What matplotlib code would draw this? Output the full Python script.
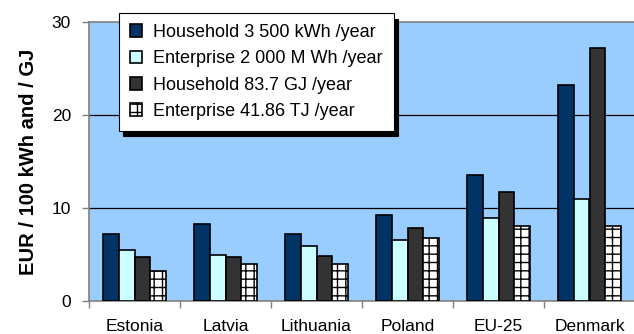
import matplotlib
matplotlib.use("Agg")
import matplotlib.pyplot as plt
import numpy as np

plt.rcParams['font.family'] = ['Liberation Sans', 'DejaVu Sans']
plt.rcParams['hatch.linewidth'] = 1.0

categories = ["Estonia", "Latvia", "Lithuania", "Poland", "EU-25", "Denmark"]
series_names = ["Household 3 500 kWh /year", "Enterprise 2 000 M Wh /year",
                "Household 83.7 GJ /year", "Enterprise 41.86 TJ /year"]
household_kwh = [7.2, 8.3, 7.2, 9.3, 13.6, 23.2]
enterprise_mwh = [5.5, 4.9, 5.9, 6.6, 8.9, 11.0]
household_gj = [4.7, 4.7, 4.8, 7.9, 11.7, 27.2]
enterprise_tj = [3.2, 4.0, 4.0, 6.8, 8.1, 8.1]
yticks = [0, 10, 20, 30]

series = [household_kwh, enterprise_mwh, household_gj, enterprise_tj]
colors = ["#003366", "#CCFFFF", "#333333", "#FFFFFF"]
hatches = [None, None, None, "++"]

fig = plt.figure(figsize=(6.34, 3.34), dpi=100)
ax = fig.add_axes([89/634, 1-301/334, 546/634, 279/334])
ax.set_facecolor("#99CCFF")

x = np.arange(len(categories))
bw = 0.175
for i, (vals, c, h) in enumerate(zip(series, colors, hatches)):
    offs = (i - 1.5) * bw
    ax.bar(x + offs, vals, width=bw, color=c, edgecolor="black", linewidth=1.2,
           hatch=h, label=series_names[i], zorder=3)

ax.set_xlim(-0.5, len(categories) - 0.5)
ax.set_ylim(0, 30)
ax.set_yticks(yticks)
ax.set_yticklabels([str(t) for t in yticks], fontsize=12.5)
for t in yticks[1:-1]:
    ax.axhline(t, color="black", linewidth=0.9, zorder=1)

ax.set_xticks(x)
ax.set_xticklabels(categories, fontsize=12.5)
ax.tick_params(axis='x', which='major', length=0, pad=13)
ax.set_xticks(np.arange(-0.5, len(categories) + 0.5, 1), minor=True)
ax.tick_params(axis='x', which='minor', length=5, color="#808080", width=1)
ax.tick_params(axis='y', length=5, color="#808080", width=1, pad=8)

for s in ["left", "bottom", "top"]:
    ax.spines[s].set_color("#808080")
    ax.spines[s].set_linewidth(1.2)
ax.spines["right"].set_visible(False)

ax.set_ylabel("EUR / 100 kWh and / GJ", fontsize=14.5, fontweight="bold", labelpad=10)

leg = ax.legend(loc="upper left", bbox_to_anchor=(119/634, 1-13/334),
                bbox_transform=fig.transFigure, fontsize=13, frameon=True,
                fancybox=False, edgecolor="black", framealpha=1,
                handlelength=0.7, handleheight=0.7, handletextpad=0.6,
                labelspacing=0.52, borderpad=0.6, borderaxespad=0,
                shadow={'ox': 3, 'oy': -4, 'color': 'black', 'alpha': 1})
leg.get_frame().set_linewidth(0.8)
leg.set_zorder(5)

fig.savefig("out.png", dpi=100, facecolor="white")
